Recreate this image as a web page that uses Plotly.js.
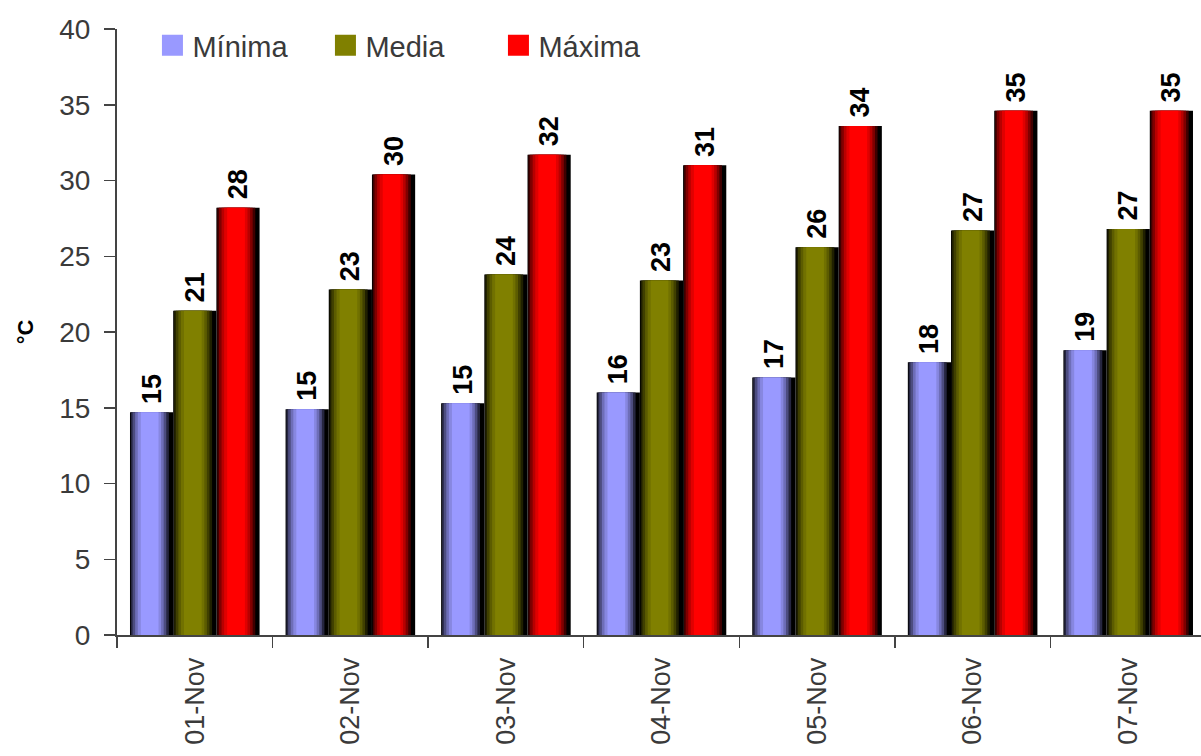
<!DOCTYPE html>
<html>
<head>
<meta charset="utf-8">
<script src="https://cdn.plot.ly/plotly-3.0.1.min.js"></script>
<style>
  html, body { margin: 0; padding: 0; background: #ffffff; }
  #chart { width: 1201px; height: 756px; }
</style>
</head>
<body>
<div id="chart"></div>
<script>
// ---- data ----
const categories = ["01-Nov", "02-Nov", "03-Nov", "04-Nov", "05-Nov", "06-Nov", "07-Nov"];
const minima = [14.7, 14.9, 15.3, 16.0, 17.0, 18.0, 18.8];
const media  = [21.4, 22.8, 23.8, 23.4, 25.6, 26.7, 26.8];
const maxima = [28.2, 30.4, 31.7, 31.0, 33.6, 34.6, 34.6];
const seriesNames = ["Mínima", "Media", "Máxima"];
const yTicks = [0, 5, 10, 15, 20, 25, 30, 35, 40];

// ---- styling ----
const baseColors = [[153, 153, 255], [128, 128, 0], [255, 0, 0]];
const groupWidth = 1 - 0.167;
const barW = groupWidth / 3;
// cylinder-like shading layers: [width fraction, center fraction, colour mix]
const layers = [
  [1.00, 0.50, 0.00],
  [0.88, 0.46, 0.25],
  [0.78, 0.45, 0.50],
  [0.66, 0.45, 0.72],
  [0.54, 0.45, 0.88],
  [0.41, 0.455, 1.00]
];
function mix(c, m) {
  return "rgb(" + c.map(v => Math.round(v * m)).join(",") + ")";
}
const FONT = "Liberation Sans, Arial, sans-serif";

const seriesValues = [minima, media, maxima];
const traces = [];
seriesValues.forEach((vals, s) => {
  const off0 = -groupWidth / 2 + s * barW;
  layers.forEach((L, li) => {
    const [f, c, m] = L;
    const isBase = li === 0;
    const isTop = li === layers.length - 1;
    traces.push({
      type: "bar",
      x: categories,
      y: vals,
      name: seriesNames[s],
      legendgroup: seriesNames[s],
      showlegend: isTop,
      width: barW * f,
      offset: off0 + barW * (c - f / 2),
      marker: { color: mix(baseColors[s], m), line: { width: 0 } },
      text: isBase ? vals.map(v => "\u2009" + Math.round(v).toString()) : undefined,
      texttemplate: isBase ? "%{text}" : undefined,
      textposition: isBase ? "outside" : "none",
      textangle: -90,
      constraintext: "none",
      cliponaxis: false,
      textfont: { family: FONT, size: 27, color: "#000000", weight: "bold" },
      hoverinfo: "x+y+name"
    });
  });
});

const layout = {
  width: 1201,
  height: 756,
  margin: { l: 117, r: 0, t: 29, b: 121 },
  paper_bgcolor: "#ffffff",
  plot_bgcolor: "#ffffff",
  barmode: "overlay",
  showlegend: true,
  legend: {
    orientation: "h",
    x: 0.0327, xanchor: "left",
    y: 1.015, yanchor: "top",
    font: { family: FONT, size: 29, color: "#3a3a3a" },
    bgcolor: "rgba(0,0,0,0)",
    itemwidth: 30,
    entrywidth: 128,
    entrywidthmode: "pixels",
    tracegroupgap: 0
  },
  xaxis: {
    type: "category",
    range: [-0.5, 6.468],
    showline: true,
    linecolor: "#444444",
    linewidth: 2,
    ticks: "outside",
    tickson: "boundaries",
    ticklen: 11,
    tickwidth: 1.5,
    tickcolor: "#444444",
    tickangle: -90,
    ticklabelstandoff: 10,
    showgrid: false,
    zeroline: false,
    tickfont: { family: FONT, size: 27, color: "#3a3a3a" }
  },
  yaxis: {
    range: [0, 40],
    tickvals: yTicks,
    ticktext: yTicks.map(String),
    showline: true,
    linecolor: "#444444",
    linewidth: 2,
    ticks: "outside",
    ticklen: 11,
    tickwidth: 1.5,
    tickcolor: "#444444",
    ticklabelstandoff: 8,
    showgrid: false,
    zeroline: false,
    tickfont: { family: FONT, size: 28, color: "#3a3a3a" },
    title: {
      text: "°C",
      standoff: 20,
      font: { family: FONT, size: 22, color: "#000000", weight: "bold" }
    }
  }
};

Plotly.newPlot("chart", traces, layout, { displayModeBar: false, staticPlot: true }).then(() => {
  // enlarge legend swatches to match the reference's bigger squares
  document.querySelectorAll("#chart .legend .legendpoints path").forEach(p => {
    const d = p.getAttribute("d") || "";
    if (/M6,6H-6V-6H6Z/.test(d)) p.setAttribute("d", "M10.5,10.5H-10.5V-10.5H10.5Z");
  });
});
</script>
</body>
</html>
